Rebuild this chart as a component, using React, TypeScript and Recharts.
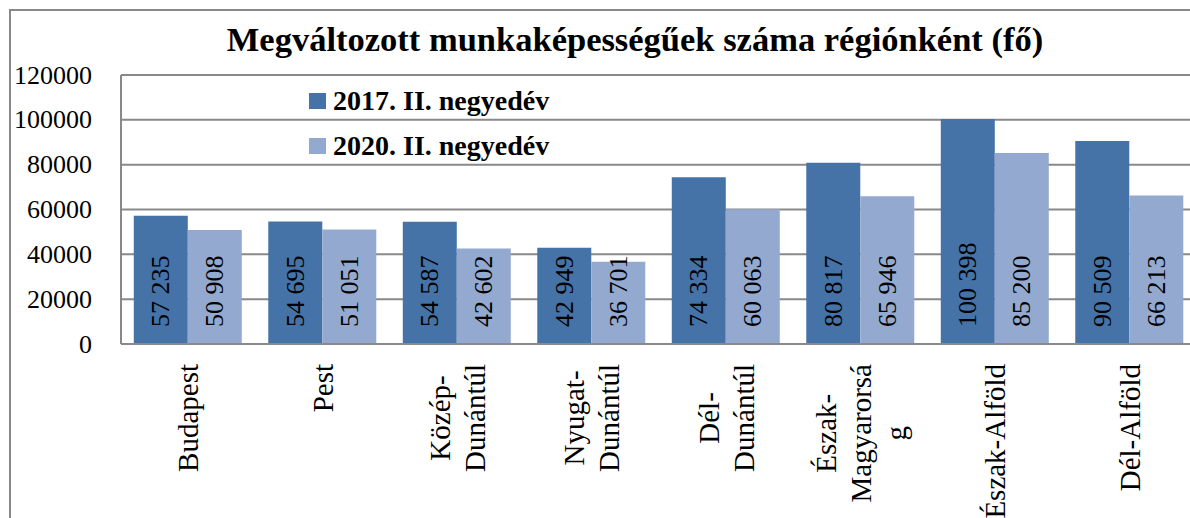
import { BarChart, Bar, XAxis, YAxis, CartesianGrid, Legend, LabelList } from "recharts";

const regions = [
  "Budapest",
  "Pest",
  "Közép-Dunántúl",
  "Nyugat-Dunántúl",
  "Dél-Dunántúl",
  "Észak-Magyarország",
  "Észak-Alföld",
  "Dél-Alföld",
];
// wrapped tick labels as they appear on the axis
const regionLines = [
  ["Budapest"],
  ["Pest"],
  ["Közép-", "Dunántúl"],
  ["Nyugat-", "Dunántúl"],
  ["Dél-", "Dunántúl"],
  ["Észak-", "Magyarorsá", "g"],
  ["Észak-Alföld"],
  ["Dél-Alföld"],
];
const q2017 = [57235, 54695, 54587, 42949, 74334, 80817, 100398, 90509];
const q2020 = [50908, 51051, 42602, 36701, 60063, 65946, 85200, 66213];
const yTicks = [0, 20000, 40000, 60000, 80000, 100000, 120000];

const data = regions.map((region, i) => ({
  region,
  q2017: q2017[i],
  q2020: q2020[i],
}));

const FONT = '"Liberation Serif", serif';
const GRID = "#898989";
const TICK_SIZE = 29;

const fmt = (v: number) => String(v).replace(/\B(?=(\d{3})+(?!\d))/g, " ");

let ctx: CanvasRenderingContext2D | null = null;
function textWidth(s: string, size: number) {
  if (!ctx) ctx = document.createElement("canvas").getContext("2d");
  if (!ctx) return s.length * size * 0.5;
  ctx.font = `${size}px "Liberation Serif"`;
  return ctx.measureText(s).width;
}

function BarValue(props: any) {
  const { x, y, width, height, value } = props;
  const cx = x + width / 2;
  const by = y + height - 17;
  return (
    <text
      x={cx}
      y={by}
      transform={`rotate(-90 ${cx} ${by})`}
      textAnchor="start"
      dominantBaseline="central"
      style={{ fontFamily: FONT, fontSize: 26, fill: "#000" }}
    >
      {fmt(value)}
    </text>
  );
}

function ValueTick(props: any) {
  const { x, y, payload } = props;
  return (
    <text
      x={x}
      y={y}
      textAnchor="end"
      dominantBaseline="central"
      style={{ fontFamily: FONT, fontSize: 26, fill: "#000" }}
    >
      {payload.value}
    </text>
  );
}

function RegionTick(props: any) {
  const { x, y, payload } = props;
  const lines = regionLines[regions.indexOf(payload.value)] ?? [payload.value];
  const longest = Math.max(...lines.map((l) => textWidth(l, TICK_SIZE)));
  const mid = y + 18 + longest / 2;
  return (
    <g>
      {lines.map((line, i) => {
        const lx = x + (i - (lines.length - 1) / 2) * 35;
        return (
          <text
            key={i}
            x={lx}
            y={mid}
            transform={`rotate(-90 ${lx} ${mid})`}
            textAnchor="middle"
            dominantBaseline="central"
            style={{ fontFamily: FONT, fontSize: TICK_SIZE, fill: "#000" }}
          >
            {line}
          </text>
        );
      })}
    </g>
  );
}

function LegendBox({ payload }: any) {
  return (
    <div>
      {(payload ?? []).map((p: any) => (
        <div key={p.value} style={{ display: "flex", alignItems: "center", height: 45 }}>
          <span style={{ width: 17, height: 16, background: p.color, marginRight: 7 }} />
          <span style={{ fontWeight: "bold", fontSize: 28, fontFamily: FONT, color: "#000" }}>
            {p.value}
          </span>
        </div>
      ))}
    </div>
  );
}

export default function App() {
  return (
    <div
      style={{
        position: "fixed",
        left: 0,
        top: 0,
        width: 1190,
        height: 518,
        overflow: "hidden",
        background: "#fff",
        fontFamily: FONT,
      }}
    >
      <div
        style={{
          position: "absolute",
          left: 9,
          top: 9,
          width: 1300,
          height: 600,
          borderLeft: `2px solid ${GRID}`,
          borderTop: `2px solid ${GRID}`,
        }}
      />
      <div
        style={{
          position: "absolute",
          left: 0,
          top: 17,
          width: 1270,
          textAlign: "center",
          fontWeight: "bold",
          fontSize: 34.5,
          lineHeight: "44px",
          color: "#000",
        }}
      >
        Megváltozott munkaképességűek száma régiónként (fő)
      </div>
      <div style={{ position: "absolute", left: 0, top: 0 }}>
        <BarChart
          width={1200}
          height={518}
          data={data}
          margin={{ top: 75, right: 3, left: 0, bottom: 0 }}
          barCategoryGap="9.5%"
          barGap={0}
          style={{ fontFamily: FONT }}
        >
          <CartesianGrid vertical={false} stroke={GRID} strokeWidth={2} />
          <XAxis
            dataKey="region"
            interval={0}
            height={174}
            tickLine={false}
            tickSize={0}
            axisLine={{ stroke: GRID, strokeWidth: 2 }}
            tick={<RegionTick />}
          />
          <YAxis
            width={121}
            domain={[0, 120000]}
            ticks={yTicks}
            tickLine={false}
            tickSize={0}
            tickMargin={29}
            axisLine={{ stroke: GRID, strokeWidth: 2 }}
            tick={<ValueTick />}
          />
          <Legend
            layout="vertical"
            align="center"
            verticalAlign="middle"
            wrapperStyle={{ top: 78, left: 309, width: "auto" }}
            content={<LegendBox />}
          />
          <Bar dataKey="q2017" name="2017. II. negyedév" fill="#4572A7" isAnimationActive={false}>
            <LabelList dataKey="q2017" content={<BarValue />} />
          </Bar>
          <Bar dataKey="q2020" name="2020. II. negyedév" fill="#93A9CF" isAnimationActive={false}>
            <LabelList dataKey="q2020" content={<BarValue />} />
          </Bar>
        </BarChart>
      </div>
    </div>
  );
}
